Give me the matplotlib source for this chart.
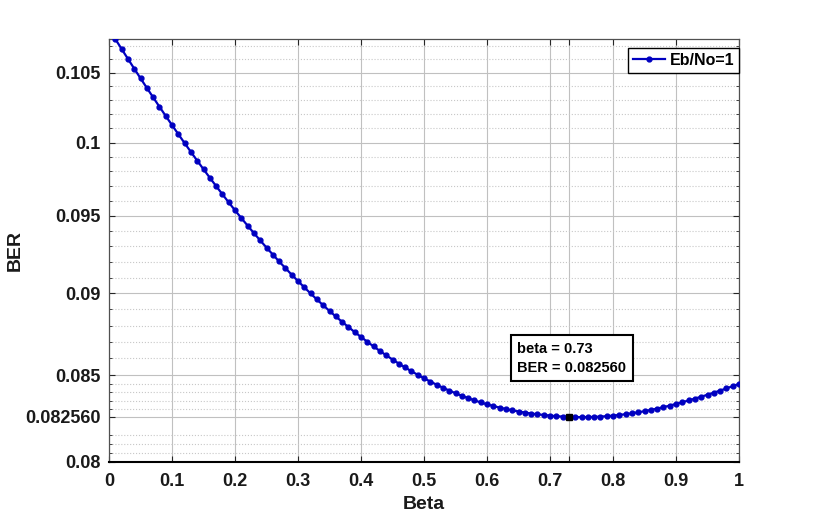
import matplotlib

matplotlib.use("Agg")
import matplotlib.pyplot as plt
import numpy as np
from matplotlib.ticker import FixedLocator, NullFormatter

plt.rcParams["font.family"] = ["Liberation Sans", "DejaVu Sans"]
plt.rcParams["font.weight"] = "bold"

# beta sampled every 0.01 from 0.01 to 1.00
beta = np.round(np.arange(1, 101) * 0.01, 2)

# BER, one value per beta step
ber = [
    0.107500, 0.106755, 0.106022, 0.105301, 0.104592, 0.103895, 0.103210, 0.102537, 0.101876, 0.101227,
    0.100588, 0.099961, 0.099346, 0.098743, 0.098152, 0.097573, 0.097006, 0.096451, 0.095908, 0.095377,
    0.094863, 0.094361, 0.093871, 0.093393, 0.092927, 0.092473, 0.092031, 0.091601, 0.091183, 0.090777,
    0.090380, 0.089994, 0.089619, 0.089255, 0.088902, 0.088560, 0.088229, 0.087909, 0.087600, 0.087302,
    0.087009, 0.086726, 0.086453, 0.086190, 0.085937, 0.085694, 0.085461, 0.085238, 0.085025, 0.084822,
    0.084626, 0.084440, 0.084262, 0.084095, 0.083937, 0.083789, 0.083650, 0.083520, 0.083400, 0.083289,
    0.083190, 0.083099, 0.083016, 0.082940, 0.082871, 0.082810, 0.082756, 0.082710, 0.082672, 0.082634,
    0.082602, 0.082578, 0.082560, 0.082550, 0.082546, 0.082550, 0.082560, 0.082578, 0.082602, 0.082634,
    0.082672, 0.082717, 0.082769, 0.082827, 0.082891, 0.082962, 0.083040, 0.083124, 0.083214, 0.083311,
    0.083411, 0.083514, 0.083622, 0.083733, 0.083849, 0.083968, 0.084092, 0.084219, 0.084350, 0.084486,
]

series_label = "Eb/No=1"
tip_beta = 0.73
tip_ber = 0.082560

x_ticks = [0, 0.1, 0.2, 0.3, 0.4, 0.5, 0.6, 0.7, 0.73, 0.8, 0.9, 1.0]
x_tick_labels = ["0", "0.1", "0.2", "0.3", "0.4", "0.5", "0.6", "0.7", "", "0.8", "0.9", "1"]
y_ticks = [0.08, 0.08256, 0.085, 0.09, 0.095, 0.1, 0.105]
y_tick_labels = ["0.08", "0.082560", "0.085", "0.09", "0.095", "0.1", "0.105"]
y_minor = [0.0805, 0.081, 0.0815, 0.083, 0.0835, 0.084, 0.0845,
           0.086, 0.087, 0.088, 0.089, 0.091, 0.092, 0.093, 0.094,
           0.096, 0.097, 0.098, 0.099, 0.101, 0.102, 0.103, 0.104, 0.106, 0.107]

fig = plt.figure(figsize=(8.16, 5.2), dpi=100)
ax = fig.add_axes([109 / 816, 1 - 462 / 520, 630 / 816, 423 / 520])

ax.semilogy(beta, ber, color="#0000c0", linewidth=1.6, marker=".",
            markersize=7, label=series_label, zorder=3)
ax.plot([tip_beta], [tip_ber], marker="s", color="black", markersize=5,
        linestyle="none", zorder=4)

ax.set_xlim(0, 1)
ax.set_ylim(0.08, 0.1075)

ax.xaxis.set_major_locator(FixedLocator(x_ticks))
ax.set_xticklabels(x_tick_labels)
ax.yaxis.set_major_locator(FixedLocator(y_ticks))
ax.set_yticklabels(y_tick_labels)
ax.yaxis.set_minor_locator(FixedLocator(y_minor))
ax.yaxis.set_minor_formatter(NullFormatter())
ax.xaxis.set_minor_locator(FixedLocator([]))

ax.grid(True, which="major", color="#c0c0c0", linestyle="-", linewidth=0.8)
ax.grid(True, which="minor", axis="y", color="#c8c8c8", linestyle=":", linewidth=0.8)
ax.set_axisbelow(True)

ax.tick_params(which="both", direction="in", top=True, right=True, labelsize=13,
               colors="#262626", labelcolor="#1a1a1a")
ax.tick_params(which="major", length=4)
ax.tick_params(axis="x", which="major", pad=8)
ax.tick_params(axis="y", which="major", pad=6)
ax.tick_params(which="minor", length=2.5)
for lbl in ax.get_xticklabels() + ax.get_yticklabels():
    lbl.set_fontweight("bold")

for side in ["left", "top", "right"]:
    ax.spines[side].set_color("#505050")
    ax.spines[side].set_linewidth(0.9)
ax.spines["bottom"].set_color("black")
ax.spines["bottom"].set_linewidth(1.5)

ax.set_xlabel("Beta", fontsize=14, fontweight="bold", color="#1a1a1a", labelpad=4)
# y label sits close to the figure edge, as in the reference
fig.text(15 / 816, 1 - 250 / 520, "BER", rotation=90, ha="center", va="center",
         fontsize=14, fontweight="bold", color="#1a1a1a")

leg = ax.legend(loc="upper right", bbox_to_anchor=(1.0, 1 - 9 / 423), borderaxespad=0,
                fancybox=False, framealpha=1, edgecolor="black", fontsize=11.5,
                handlelength=2.0, handletextpad=0.3, borderpad=0.3)
leg.get_frame().set_linewidth(1.0)
for t in leg.get_texts():
    t.set_fontweight("bold")

ax.text(0.648, 0.08702, f"beta = {tip_beta:.2f}\nBER = {tip_ber:.6f}",
        fontsize=10.5, fontweight="bold", va="top", ha="left", linespacing=1.45,
        bbox=dict(boxstyle="square,pad=0.45", facecolor="white", edgecolor="black",
                  linewidth=1.5), zorder=5)

fig.savefig("out.png", dpi=100)
